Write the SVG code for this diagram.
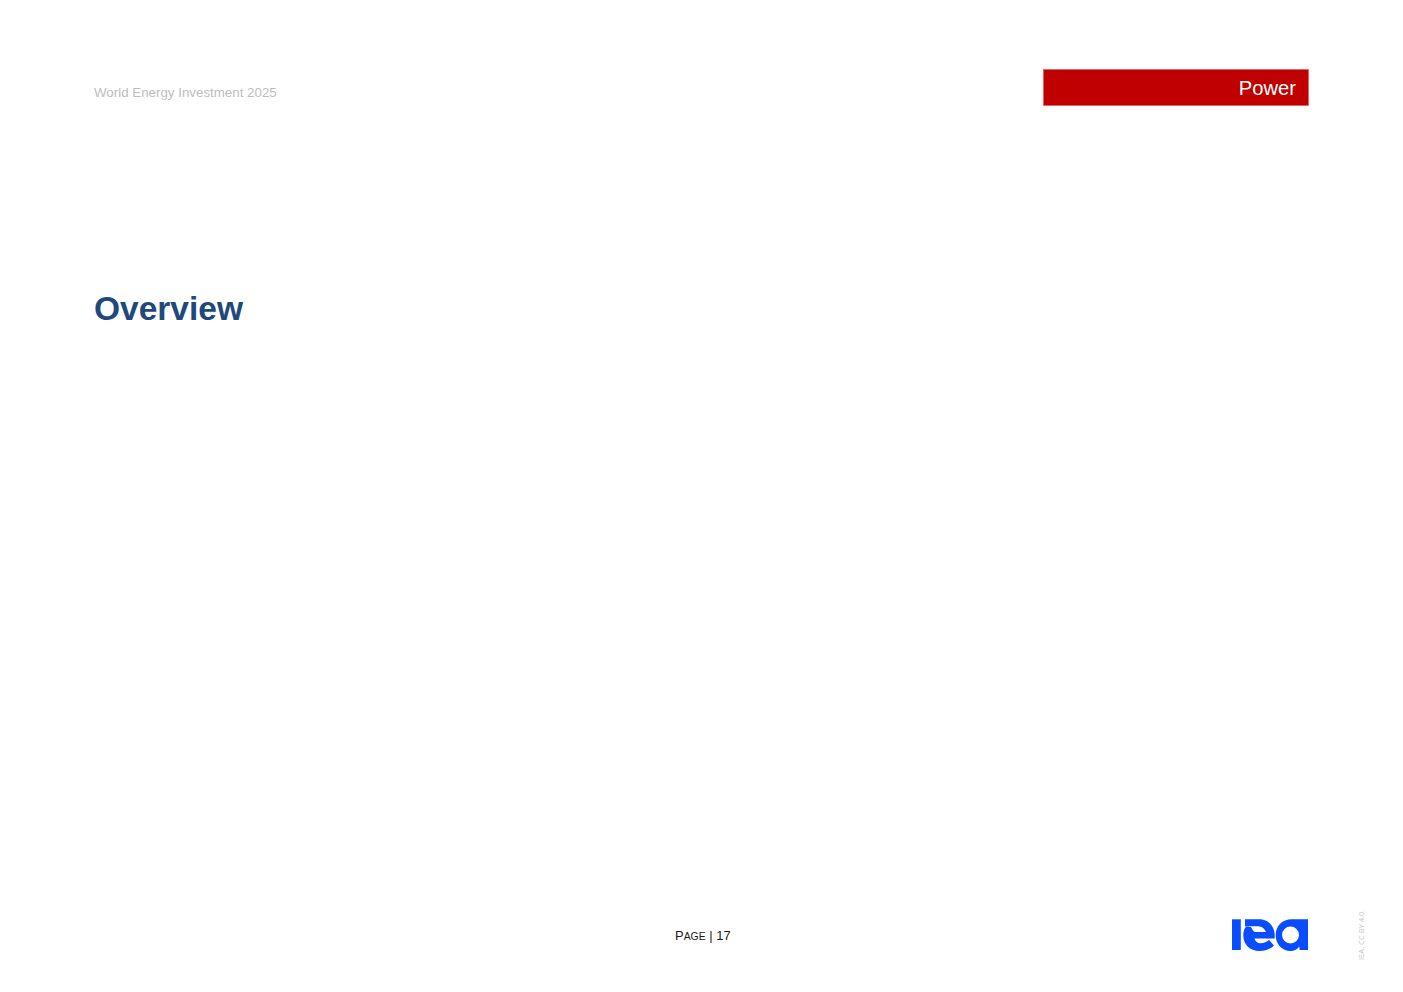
<svg xmlns="http://www.w3.org/2000/svg" width="1403" height="992" viewBox="0 0 1403 992">
  <style>
    text { font-family: "Liberation Sans", Arial, sans-serif; }
    .logo { fill: #0a4cff; }
  </style>
  <rect width="1403" height="992" fill="#ffffff"/>
  <g id="header-title"><text x="94" y="97" font-size="13.330" fill="#bdbdbd">World Energy Investment 2025</text></g>
  <g id="section-tab">
    <rect x="1043.500" y="69.500" width="265" height="36" fill="#c00000" stroke="#d9595f" stroke-width="0.600"/>
    <text x="1296" y="95" font-size="20.200" fill="#ffffff" text-anchor="end">Power</text>
  </g>
  <g id="heading"><text x="94" y="320" font-size="33.500" font-weight="700" fill="#1f497d">Overview</text></g>
  <g id="page-number">
    <text x="675" y="940" font-size="13" fill="#1a1a1a">P<tspan font-size="10.400">AGE</tspan> | 17</text>
  </g>
  <g id="iea-logo">
    <rect class="logo" x="1232" y="919.300" width="8.800" height="30.700"/>
    <path class="logo" d="M1245 919.300 H1259 C1268.500 919.300 1274.700 926.500 1274.700 935 V938.500 H1254.500 C1255.500 941.800 1257.500 943.200 1260.500 943.200 C1264 943.200 1266.800 942 1269 940 L1274 945.500 C1270.500 949 1265.500 951 1259.500 951 C1250 951 1243.300 944.500 1243.300 935.500 C1243.300 931.500 1244.300 928.800 1246 926.600 L1251 926.900 C1252 929 1253 931 1255 932 H1266 C1265 929 1262 926.200 1258 926.200 H1245 Z"/>
    <path class="logo" fill-rule="evenodd" d="M1291.500 919.300 H1308 V950 H1299.500 V946.500 C1297 949.500 1294 951 1290.500 951 C1282 951 1275.700 944 1275.700 935.200 C1275.700 926 1282.500 919.300 1291.500 919.300 Z M1290.500 926.500 A8.500 8.500 0 1 0 1290.510 943.500 A8.500 8.500 0 1 0 1290.500 926.500 Z"/>
  </g>
  <g id="licence"><text transform="translate(1364 960) rotate(-90)" style="font-family:'Open Sans','Liberation Sans',sans-serif" font-size="7.600" fill="#c8c8c8">IEA. CC BY 4.0.</text></g>
</svg>
